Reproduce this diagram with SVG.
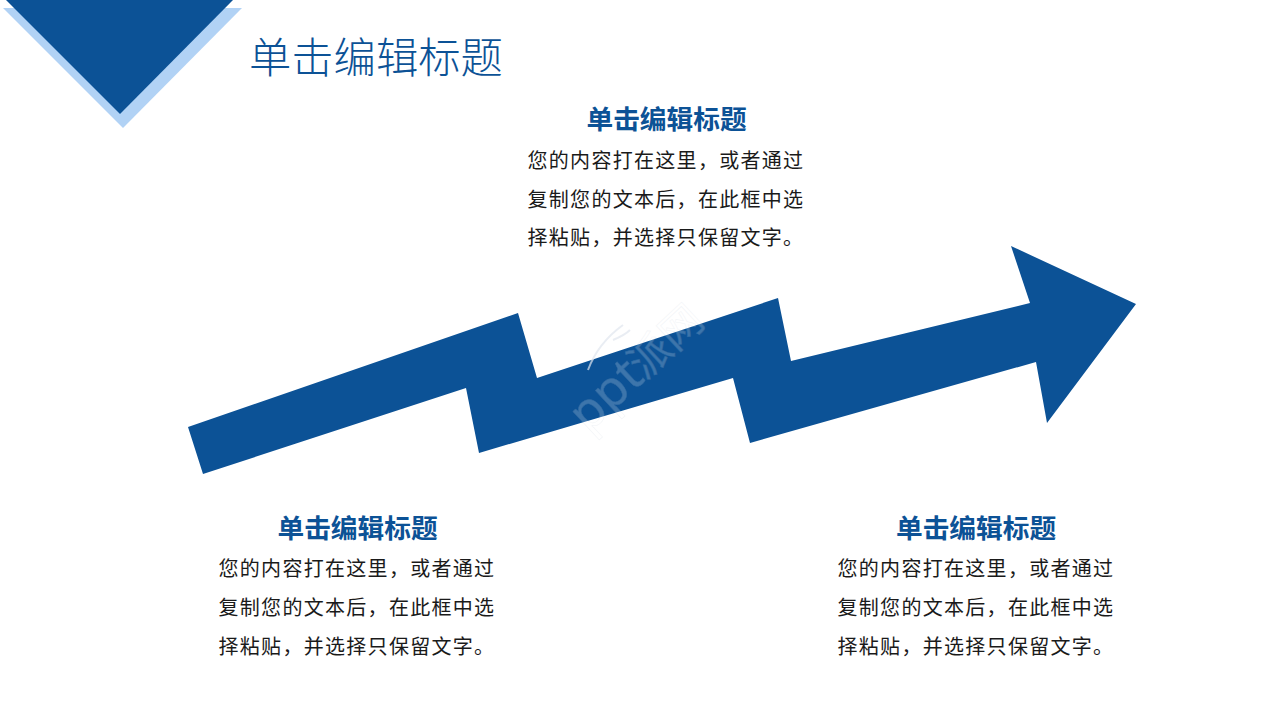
<svg xmlns="http://www.w3.org/2000/svg" width="1280" height="720" viewBox="0 0 1280 720">
<style>
text{font-family:"Noto Sans CJK SC","Noto Sans",sans-serif}
.t{font-size:42.3px;font-weight:300;fill:#0c5296}
.h{font-size:26.7px;font-weight:700;fill:#0c5296}
.b{font-size:20px;fill:#1a1a1a;letter-spacing:1.3px}
</style>
<rect width="1280" height="720" fill="#fff"/>
<g id="corner">
<polygon points="3,8 242,8 123,128" fill="#b1d2f5"/>
<polygon points="6,0 233,0 120,114" fill="#0c5296"/>
</g>
<text id="title" class="t" x="249" y="72.5">单击编辑标题</text>
<g id="arrow">
<polygon points="188,427 518,313 537,378 778,298 791,361 1030,303 1011,246 1136,304 1047,423 1036,362 750,443 733,378 479,453 466,388 203,474" fill="#0c5296"/>
</g>
<g id="watermark" transform="translate(588,434) rotate(-43)" opacity="0.2" fill="#fff">
<text x="0" y="0" font-size="50" fill="#fff" style="font-family:'Noto Sans',sans-serif" stroke="#b8c6d6" stroke-width="0.5">ppt</text>
<text x="78" y="0" font-size="42" fill="#fff" stroke="#b8c6d6" stroke-width="0.5">派网</text>
</g>
<path d="M588 370Q598 343 623 325M613 340Q625 335 630 330" fill="none" stroke="#dfe6ee" stroke-width="2" opacity="0.7"/>
<g id="block-top">
<text class="h" x="586.5" y="129">单击编辑标题</text>
<text class="b" x="527.5" y="168">您的内容打在这里，或者通过</text>
<text class="b" x="527.5" y="207">复制您的文本后，在此框中选</text>
<text class="b" x="527.5" y="245">择粘贴，并选择只保留文字。</text>
</g>
<g id="block-left">
<text class="h" x="277.5" y="538">单击编辑标题</text>
<text class="b" x="218.5" y="576">您的内容打在这里，或者通过</text>
<text class="b" x="218.5" y="615">复制您的文本后，在此框中选</text>
<text class="b" x="218.5" y="654">择粘贴，并选择只保留文字。</text>
</g>
<g id="block-right">
<text class="h" x="896" y="538">单击编辑标题</text>
<text class="b" x="837.5" y="576">您的内容打在这里，或者通过</text>
<text class="b" x="837.5" y="615">复制您的文本后，在此框中选</text>
<text class="b" x="837.5" y="654">择粘贴，并选择只保留文字。</text>
</g>
</svg>
